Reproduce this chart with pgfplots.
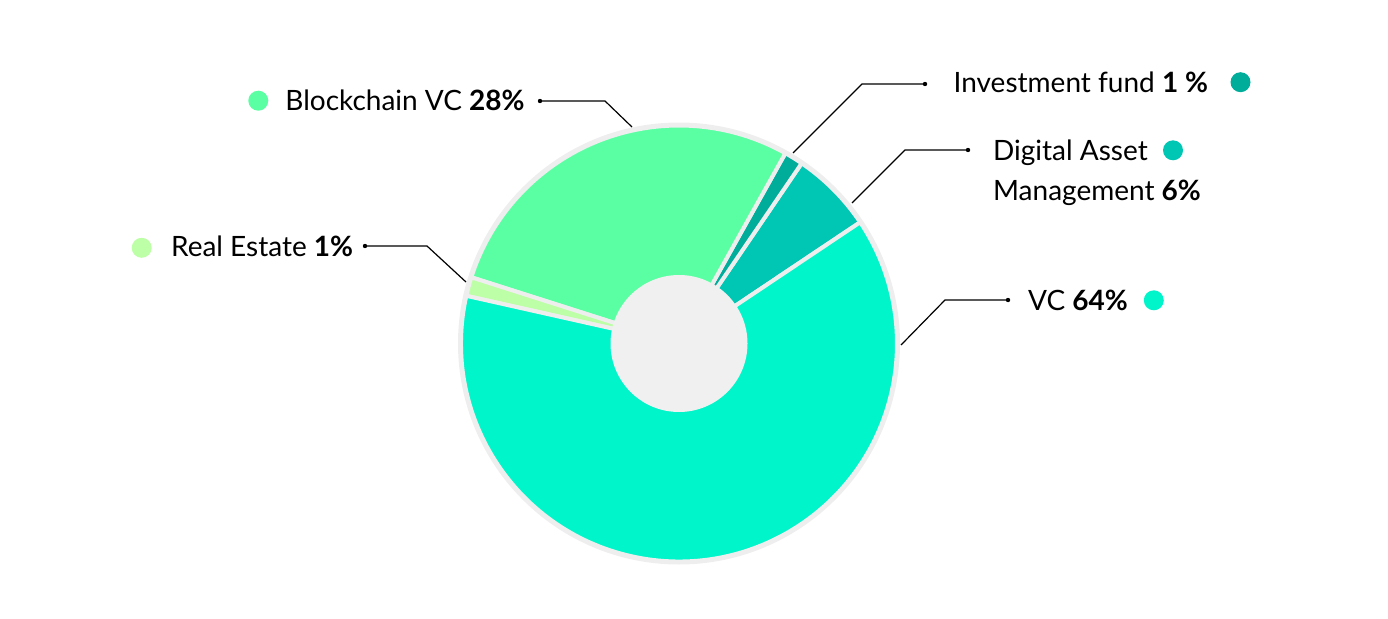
\documentclass[border=0pt]{standalone}
\usepackage{pgfplots}
\usepackage{pgfplotstable}
\pgfplotsset{compat=1.18}
\usepackage{fontspec}
\setmainfont{Lato}

\definecolor{cvc}{HTML}{00F5CA}
\definecolor{cbvc}{HTML}{5BFFA3}
\definecolor{cdam}{HTML}{00C7B3}
\definecolor{cinv}{HTML}{00AC9A}
\definecolor{cre}{HTML}{BDFFA6}
\definecolor{piegap}{HTML}{EEEEEE}
\definecolor{hole}{HTML}{F0F0F0}

% shares in percent, counter-clockwise from the VC / DAM border
\pgfplotstableread{
share col
6.1  cdam
1.4  cinv
28.2 cbvc
1.4  cre
62.9 cvc
}\pietable

\begin{document}
\begin{tikzpicture}
\begin{axis}[
  width=694pt, height=309pt, scale only axis,
  xmin=0, xmax=1388, ymin=-618, ymax=0,
  hide axis, clip=false,
]
% keep the full canvas
\path (axis cs:0,0) rectangle (axis cs:1388,-618);
% grey rim behind the pie
\fill[piegap] (axis cs:679,-343.5) circle[radius=110.5pt];
\pgfmathsetmacro\angA{33.8}
\pgfplotsforeachungrouped \i in {0,...,4}{%
  \pgfplotstablegetelem{\i}{share}\of\pietable \let\pshare=\pgfplotsretval
  \pgfplotstablegetelem{\i}{col}\of\pietable \let\pcol=\pgfplotsretval
  \pgfmathsetmacro\angB{\angA+3.6*\pshare}%
  \edef\temp{\noexpand\fill[fill=\pcol, draw=piegap, line width=2pt, line join=round]
    (axis cs:679,-343.5) -- ++(\angA:109pt) arc[start angle=\angA, end angle=\angB, radius=109pt] -- cycle;}%
  \temp
  \global\let\angA=\angB
}
\fill[hole] (axis cs:679,-343.5) circle[radius=34.25pt];

% leader lines
\draw[line width=0.6pt] (axis cs:540,-101) -- (axis cs:605,-101) -- (axis cs:632,-127);
\draw[line width=0.6pt] (axis cs:365,-246) -- (axis cs:427,-246) -- (axis cs:466,-282);
\draw[line width=0.6pt] (axis cs:925,-84) -- (axis cs:862,-84) -- (axis cs:793,-153);
\draw[line width=0.6pt] (axis cs:968,-150) -- (axis cs:905,-150) -- (axis cs:852,-203);
\draw[line width=0.6pt] (axis cs:1008,-300) -- (axis cs:945,-300) -- (axis cs:901,-345);
\fill (axis cs:540,-101) circle[radius=1.1pt];
\fill (axis cs:365,-246) circle[radius=1.1pt];
\fill (axis cs:925,-84) circle[radius=1.1pt];
\fill (axis cs:968,-150) circle[radius=1.1pt];
\fill (axis cs:1008,-300) circle[radius=1.1pt];

% labels
\tikzset{lab/.style={anchor=base west, inner sep=0pt, font=\fontsize{14}{17}\selectfont},
         dot/.style={circle, inner sep=0pt, minimum size=10pt}}
\node[lab] at (axis cs:285,-110.7) {Blockchain VC \textbf{28\%}};
\node[lab] at (axis cs:170.7,-256.7) {Real Estate \textbf{1\%}};
\node[lab] at (axis cs:953.3,-92.7) {Investment fund \textbf{1 \%}};
\node[lab] at (axis cs:992.7,-160) {Digital Asset};
\node[lab] at (axis cs:992.7,-200) {Management \textbf{6\%}};
\node[lab] at (axis cs:1027.7,-310) {VC \textbf{64\%}};

\node[dot, fill=cbvc] at (axis cs:258.3,-100.7) {};
\node[dot, fill=cre]  at (axis cs:141.7,-247.8) {};
\node[dot, fill=cinv] at (axis cs:1240.5,-82.2) {};
\node[dot, fill=cdam] at (axis cs:1173,-150.3) {};
\node[dot, fill=cvc]  at (axis cs:1153.8,-300.3) {};
\end{axis}
\end{tikzpicture}
\end{document}
